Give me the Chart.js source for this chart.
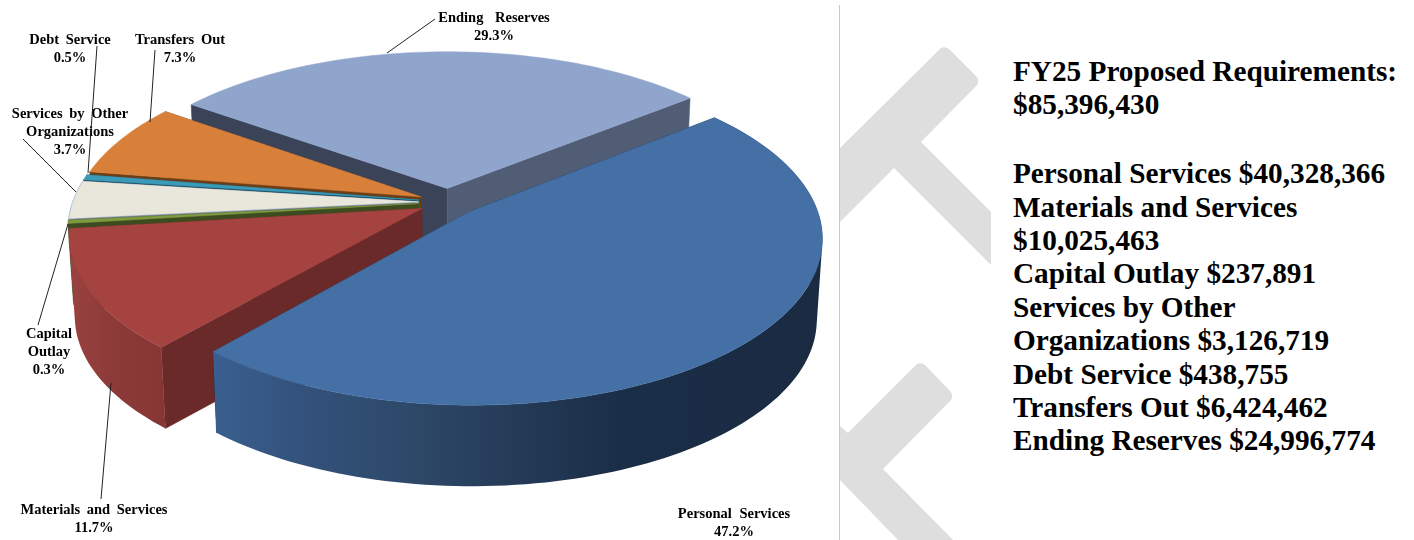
<!DOCTYPE html>
<html>
<head>
<meta charset="utf-8">
<title>FY25 Proposed Requirements</title>
<script src="https://cdn.jsdelivr.net/npm/chart.js@4"></script>
<style>
  html, body { margin: 0; padding: 0; background: #fff; }
  #page { position: relative; width: 1414px; height: 540px; overflow: hidden; }
  #marks { position: absolute; left: 0; top: 0; }
  #chart { position: absolute; left: 0; top: 0; }
  .summary {
    position: absolute; left: 1013px; white-space: pre; color: #000;
    font: bold 29.25px/33.4px "Liberation Serif", serif;
  }
  #summaryTotal { top: 54.5px; line-height: 33.65px; }
  #summaryList { top: 157.2px; }
</style>
</head>
<body>
<div id="page">
  <svg id="marks" width="1414" height="540">
    <line x1="839.5" y1="5" x2="839.5" y2="540" stroke="#c9c9c9" stroke-width="1"/>
    <path fill="#dedede" d="M840 148 L941 48 Q945 46 949 49 L976 76 Q980 81 977 85 L921 142 L991 212 L991 265 L894 168 L840 222 Z"/>
    <path fill="#dedede" d="M840 426 L848 433 L917 364 Q921 362 925 365 L950 391 Q954 396 951 400 L883 469 L953 540 L898 540 L840 480 Z"/>
  </svg>
  <canvas id="chart" width="838" height="540"></canvas>
  <div id="summaryTotal" class="summary"></div>
  <div id="summaryList" class="summary"></div>
</div>
<script>
const categories = ["Personal Services", "Materials and Services", "Capital Outlay", "Services by Other Organizations", "Debt Service", "Transfers Out", "Ending Reserves"];
const shares = [47.2, 11.7, 0.3, 3.7, 0.5, 7.3, 29.3];
const amounts = ["$40,328,366", "$10,025,463", "$237,891", "$3,126,719", "$438,755", "$6,424,462", "$24,996,774"];
const total = "$85,396,430";

// slice colours: top face, the two radial faces, outer wall (null = wall never seen)
const topColors = ["#4470a6", "#a54341", "#7f9a40", "#e9e7dc", "#3a9ab8", "#d8803a", "#90a5cc"];
const startFaceColors = ["#1b2d45", "#6a2a29", "#3d4c1f", "#74859c", "#1f4f63", "#6b3e18", "#3a4358"];
const endFaceColors = ["#1b2d45", "#6a2a29", "#3d4c1f", "#74859c", "#1f4f63", "#6b3e18", "#515d75"];
const wallStops = [
  [[212, "#3a6090"], [300, "#33527c"], [420, "#2d4767"], [520, "#243a57"], [620, "#1b2e48"], [820, "#1a2b42"]],
  [[70, "#9a4240"], [110, "#8c3b39"], [170, "#853533"]],
  null,
  null,
  null,
  null,
  null,
];

// tilted disc with perspective, all slices pulled out of the centre
const CX = 448, CY = 202, RX = 346, RY = 161, PERSP = 0.15;
const EXPLODE = 0.085, DEPTH = 81, FOOT_SHRINK = 0.985;

// name lines, centre x and first baseline, word gap, leader line [x1, y1, x2, y2]
const labelLayout = [
  { lines: ["Personal Services"], x: 734, y: 518, gap: 4, leader: null },
  { lines: ["Materials and Services"], x: 94, y: 514, gap: 3, leader: [111, 383, 101, 499] },
  { lines: ["Capital", "Outlay"], x: 49, y: 338, gap: 3, leader: [68, 224, 38, 325] },
  { lines: ["Services by Other", "Organizations"], x: 70, y: 118, gap: 3, leader: [76, 192, 23, 139] },
  { lines: ["Debt Service"], x: 70, y: 44, gap: 3, leader: [88, 173, 97, 46] },
  { lines: ["Transfers Out"], x: 180, y: 44, gap: 3, leader: [150, 122, 155, 50] },
  { lines: ["Ending Reserves"], x: 494, y: 22, gap: 8, leader: [387, 53, 435, 19] },
];

function project(u, v) {
  const s = 1 / (1 - PERSP * v);
  return [CX + RX * u * s, CY + RY * v * s];
}

function foot(p) {
  return [CX + (p[0] - CX) * FOOT_SHRINK, p[1] + DEPTH];
}

function fillPath(ctx, pts, fill) {
  ctx.beginPath();
  pts.forEach((p, i) => (i ? ctx.lineTo(p[0], p[1]) : ctx.moveTo(p[0], p[1])));
  ctx.closePath();
  ctx.fillStyle = fill;
  ctx.fill();
  // hairline in the same colour hides the seams between faces
  ctx.strokeStyle = fill;
  ctx.lineWidth = 0.5;
  ctx.stroke();
}

function signedArea(pts) {
  let area = 0;
  pts.forEach((p, i) => {
    const q = pts[(i + 1) % pts.length];
    area += p[0] * q[1] - q[0] * p[1];
  });
  return area;
}

// the wall swept along the rim, all quads wound the same way in one path so no seams show
function fillWall(ctx, rim, fill) {
  ctx.beginPath();
  for (let k = 0; k < rim.length - 1; k++) {
    const quad = [rim[k], rim[k + 1], foot(rim[k + 1]), foot(rim[k])];
    if (signedArea(quad) < 0) quad.reverse();
    quad.forEach((p, i) => (i ? ctx.lineTo(p[0], p[1]) : ctx.moveTo(p[0], p[1])));
    ctx.closePath();
  }
  ctx.fillStyle = fill;
  ctx.fill();
}

function wallFill(ctx, stops) {
  const first = stops[0][0];
  const last = stops[stops.length - 1][0];
  const grad = ctx.createLinearGradient(first, 0, last, 0);
  stops.forEach((s) => grad.addColorStop((s[0] - first) / (last - first), s[1]));
  return grad;
}

const pie3d = {
  id: "pie3d",
  beforeDatasetsDraw(chart) {
    const ctx = chart.ctx;
    const arcs = chart.getDatasetMeta(0).data;

    // back slices first, Personal Services last
    for (let i = arcs.length - 1; i >= 0; i--) {
      const { startAngle, endAngle } = arcs[i];
      const mid = (startAngle + endAngle) / 2;
      const ox = EXPLODE * Math.cos(mid);
      const oy = EXPLODE * Math.sin(mid);

      const apex = project(ox, oy);
      const rim = [];
      const steps = Math.max(4, Math.ceil((endAngle - startAngle) * 40));
      for (let k = 0; k <= steps; k++) {
        const a = startAngle + ((endAngle - startAngle) * k) / steps;
        rim.push(project(ox + Math.cos(a), oy + Math.sin(a)));
      }
      const first = rim[0];
      const last = rim[rim.length - 1];

      fillPath(ctx, [apex, first, foot(first), foot(apex)], startFaceColors[i]);
      fillPath(ctx, [apex, last, foot(last), foot(apex)], endFaceColors[i]);
      if (wallStops[i]) fillWall(ctx, rim, wallFill(ctx, wallStops[i]));
      fillPath(ctx, [apex].concat(rim), topColors[i]);
    }

    // thin pale edge along the small cream slice
    const cream = arcs[3];
    const creamMid = (cream.startAngle + cream.endAngle) / 2;
    ctx.beginPath();
    for (let k = 0; k <= 12; k++) {
      const a = cream.startAngle + ((cream.endAngle - cream.startAngle) * k) / 12;
      const p = project(EXPLODE * Math.cos(creamMid) + Math.cos(a), EXPLODE * Math.sin(creamMid) + Math.sin(a));
      k ? ctx.lineTo(p[0], p[1]) : ctx.moveTo(p[0], p[1]);
    }
    ctx.strokeStyle = "#a9c1de";
    ctx.lineWidth = 1;
    ctx.stroke();

    return false; // the flat arcs are replaced by the faces above
  },
  afterDraw(chart) {
    const ctx = chart.ctx;
    ctx.save();
    ctx.strokeStyle = "#222";
    ctx.lineWidth = 1;
    ctx.fillStyle = "#000";
    ctx.textAlign = "center";
    ctx.textBaseline = "alphabetic";
    ctx.font = 'bold 14.5px "Liberation Serif", serif';

    labelLayout.forEach((label, i) => {
      if (label.leader) {
        const [x1, y1, x2, y2] = label.leader;
        ctx.beginPath();
        ctx.moveTo(x1, y1);
        ctx.lineTo(x2, y2);
        ctx.stroke();
      }
      ctx.wordSpacing = label.gap + "px";
      const lines = label.lines.concat(shares[i].toFixed(1) + "%");
      lines.forEach((line, n) => ctx.fillText(line, label.x, label.y + n * 18));
    });
    ctx.restore();
  },
};

new Chart(document.getElementById("chart"), {
  type: "pie",
  data: {
    labels: categories,
    datasets: [{ data: shares, backgroundColor: topColors, borderWidth: 0 }],
  },
  options: {
    responsive: false,
    animation: false,
    rotation: 51,
    plugins: { legend: { display: false }, tooltip: { enabled: false } },
  },
  plugins: [pie3d],
});

// side list, broken where the column wraps
document.getElementById("summaryTotal").textContent = ["FY25 Proposed Requirements:", total].join("\n");
document.getElementById("summaryList").textContent = [
  `${categories[0]} ${amounts[0]}`,
  categories[1],
  amounts[1],
  `${categories[2]} ${amounts[2]}`,
  "Services by Other",
  `Organizations ${amounts[3]}`,
  `${categories[4]} ${amounts[4]}`,
  `${categories[5]} ${amounts[5]}`,
  `${categories[6]} ${amounts[6]}`,
].join("\n");
</script>
</body>
</html>
